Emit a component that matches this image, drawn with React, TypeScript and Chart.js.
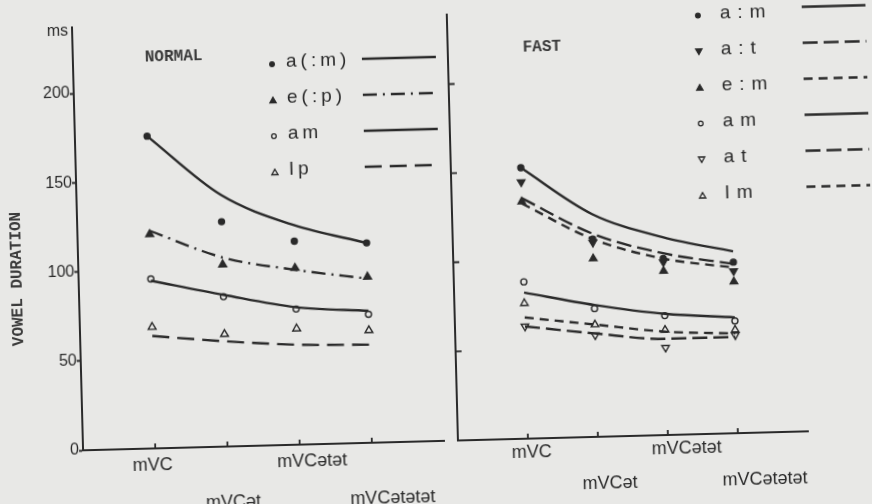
import React, { useEffect, useRef } from "react";
import { Chart, registerables } from "chart.js";

Chart.register(...registerables);

// ---------------- data ----------------
const categories = ["mVC", "mVCət", "mVCətət", "mVCətətət"];
const yTickValues = [0, 50, 100, 150, 200];
const yUnitLabel = "ms";
const yUnitValue = 235;
const yAxisTitle = "VOWEL DURATION";

// NORMAL panel
const normalTitle = "NORMAL";
const normalSeriesLabels = ["a(:m)", "e(:p)", "am", "Ip"];
const normalALongMPoints = [175, 126, 114, 112];
const normalALongMCurve = [175, 141, 123, 112];
const normalELongPPoints = [120, 102, 99, 93];
const normalELongPCurve = [122, 106, 98, 92];
const normalAmPoints = [95, 84, 76, 72];
const normalAmCurve = [94, 85, 77, 74];
const normalIpPoints = [68, 63, 65, 63];
const normalIpCurve = [63, 59, 56, 55];

// FAST panel
const fastTitle = "FAST";
const fastSeriesLabels = ["a:m", "a:t", "e:m", "am", "at", "Im"];
const fastALongMPoints = [152, 111, 99, 96];
const fastALongMCurve = [152, 125, 111, 102];
const fastALongTPoints = [144, 109, 97, 91];
const fastALongTCurve = [135, 114, 102, 95];
const fastELongMPoints = [133, 100, 92, 85];
const fastELongMCurve = [132, 111, 99, 93];
const fastAmPoints = [88, 72, 67, 63];
const fastAmCurve = [82, 74, 68, 65];
const fastAtPoints = [63, 57, 49, 55];
const fastAtCurve = [63, 58, 54, 54];
const fastImPoints = [76, 63, 59, 58];
const fastImCurve = [68, 63, 58, 56];

// ---------------- styles ----------------
const INK = "#2a2a2a";
const BG = "#e8e8e6";
const SANS = "'Liberation Sans', Arial, 'DejaVu Sans', sans-serif";
const MONO = "'Liberation Mono', 'Courier New', monospace";

type Style = { shape: string; rot: number; filled: boolean; r: number; lr: number; dash: number[] };

const normalStyles: Style[] = [
  { shape: "circle", rot: 0, filled: true, r: 3, lr: 2.3, dash: [] },
  { shape: "triangle", rot: 0, filled: true, r: 4.5, lr: 3.6, dash: [14, 6, 2, 6] },
  { shape: "circle", rot: 0, filled: false, r: 3, lr: 2.3, dash: [] },
  { shape: "triangle", rot: 0, filled: false, r: 4.5, lr: 3.6, dash: [17, 8] },
];

const fastStyles: Style[] = [
  { shape: "circle", rot: 0, filled: true, r: 3, lr: 2.3, dash: [] },
  { shape: "triangle", rot: 180, filled: true, r: 4.3, lr: 3.6, dash: [15, 6] },
  { shape: "triangle", rot: 0, filled: true, r: 4.3, lr: 3.6, dash: [9, 6] },
  { shape: "circle", rot: 0, filled: false, r: 3, lr: 2.3, dash: [] },
  { shape: "triangle", rot: 180, filled: false, r: 4.3, lr: 3.6, dash: [15, 6] },
  { shape: "triangle", rot: 0, filled: false, r: 4.3, lr: 3.6, dash: [9, 6] },
];

function buildDatasets(labels: string[], points: number[][], curves: number[][], styles: Style[]) {
  const out: any[] = [];
  labels.forEach((label, s) => {
    const st = styles[s];
    out.push({
      label,
      data: points[s].map((v, i) => ({ x: i, y: v })),
      showLine: false,
      pointStyle: st.shape,
      pointRotation: st.rot,
      pointRadius: st.r,
      pointBorderWidth: 1.4,
      pointBackgroundColor: st.filled ? INK : "rgba(0,0,0,0)",
      pointBorderColor: INK,
      legendRadius: st.lr,
      legendFilled: st.filled,
      order: 0,
    });
    out.push({
      label: label + " fit",
      data: curves[s].map((v, i) => ({ x: i, y: v })),
      borderColor: INK,
      borderWidth: 2.4,
      borderDash: st.dash,
      pointRadius: 0,
      fill: false,
      cubicInterpolationMode: "monotone",
      order: 1,
    });
  });
  return out;
}

function drawMarker(ctx: CanvasRenderingContext2D, shape: string, rotDeg: number, x: number, y: number, r: number, filled: boolean) {
  ctx.beginPath();
  if (shape === "circle") {
    ctx.arc(x, y, r, 0, Math.PI * 2);
  } else {
    let rad = (rotDeg * Math.PI) / 180;
    const yy = y + (rotDeg === 180 ? -r * 0.2 : r * 0.2);
    for (let k = 0; k < 3; k++) {
      const px = x + Math.sin(rad) * r;
      const py = yy - Math.cos(rad) * r;
      if (k === 0) ctx.moveTo(px, py);
      else ctx.lineTo(px, py);
      rad += (2 * Math.PI) / 3;
    }
    ctx.closePath();
  }
  ctx.lineWidth = 1.3;
  ctx.strokeStyle = INK;
  ctx.fillStyle = INK;
  if (filled) ctx.fill();
  ctx.stroke();
}

const panelDecor = {
  id: "panelDecor",
  afterDraw(chart: any, _args: any, opts: any) {
    const ctx: CanvasRenderingContext2D = chart.ctx;
    ctx.save();
    ctx.textBaseline = "middle";
    ctx.textAlign = "left";
    ctx.fillStyle = "#3a3a3a";
    ctx.font = `bold 16px ${MONO}`;
    ctx.fillText(opts.title, opts.titleX, opts.titleY);
    if (opts.yTitle) {
      ctx.save();
      ctx.translate(opts.yTitleX, opts.yTitleY);
      ctx.rotate(-Math.PI / 2);
      ctx.textAlign = "center";
      ctx.fillText(opts.yTitle, 0, 0);
      ctx.restore();
    }
    const ds = chart.data.datasets;
    for (let i = 0; i < ds.length; i += 2) {
      const p = ds[i];
      const f = ds[i + 1];
      const y = opts.y0 + (i / 2) * opts.dy;
      drawMarker(ctx, p.pointStyle, p.pointRotation || 0, opts.markerX, y + opts.markerDy, p.legendRadius, p.legendFilled);
      ctx.fillStyle = INK;
      ctx.font = `19px ${SANS}`;
      (ctx as any).letterSpacing = opts.letterSpacing;
      ctx.fillText(p.label, opts.textX, y);
      (ctx as any).letterSpacing = "0px";
      ctx.setLineDash(f.borderDash || []);
      ctx.lineWidth = 2.4;
      ctx.strokeStyle = INK;
      ctx.beginPath();
      ctx.moveTo(opts.lineX0, y + opts.lineDy);
      ctx.lineTo(opts.lineX1, y + opts.lineDy);
      ctx.stroke();
      ctx.setLineDash([]);
    }
    ctx.restore();
  },
};

const innerTicks = {
  id: "innerTicks",
  afterDraw(chart: any, _args: any, opts: any) {
    const ctx: CanvasRenderingContext2D = chart.ctx;
    const xs = chart.scales.x;
    const ys = chart.scales.y;
    ctx.save();
    ctx.strokeStyle = INK;
    ctx.lineWidth = 1.8;
    ctx.beginPath();
    if (opts.x) {
      for (const t of xs.ticks) {
        const px = xs.getPixelForValue(t.value);
        ctx.moveTo(px, xs.top);
        ctx.lineTo(px, xs.top - opts.x);
      }
    }
    if (opts.y) {
      for (const t of ys.ticks) {
        if (t.value <= 0) continue;
        const py = ys.getPixelForValue(t.value);
        ctx.moveTo(ys.right, py);
        ctx.lineTo(ys.right + opts.y, py);
      }
    }
    ctx.stroke();
    ctx.restore();
  },
};

function xScale(labelOffset: number, lineHeightPx: number, padding: number) {
  return {
    type: "linear",
    min: -1,
    max: 4,
    afterBuildTicks: (s: any) => {
      s.ticks = categories.map((_, i) => ({ value: i }));
    },
    afterFit: (s: any) => {
      s.height = 63;
      s.paddingLeft = 0;
      s.paddingRight = 0;
    },
    grid: { display: false },
    border: { display: true, color: INK, width: 2 },
    ticks: {
      autoSkip: false,
      maxRotation: 0,
      minRotation: 0,
      align: "start",
      labelOffset,
      padding,
      color: INK,
      font: { family: SANS, size: 18, lineHeight: lineHeightPx / 18 },
      callback: (v: number) => {
        const i = Math.round(v);
        const lab = categories[i] ?? "";
        return i % 2 === 1 ? ["", lab] : lab;
      },
    },
  };
}

function normalConfig(): any {
  return {
    type: "line",
    data: {
      datasets: buildDatasets(
        normalSeriesLabels,
        [normalALongMPoints, normalELongPPoints, normalAmPoints, normalIpPoints],
        [normalALongMCurve, normalELongPCurve, normalAmCurve, normalIpCurve],
        normalStyles
      ),
    },
    options: {
      responsive: false,
      animation: false,
      devicePixelRatio: 1,
      layout: { padding: { left: 0, right: 5, top: 18, bottom: 0 } },
      plugins: {
        legend: { display: false },
        tooltip: { enabled: false },
        panelDecor: {
          title: normalTitle, titleX: 150, titleY: 50,
          yTitle: yAxisTitle, yTitleX: 17, yTitleY: 268,
          markerX: 277, textX: 291, y0: 58, dy: 36, markerDy: 2,
          lineX0: 367, lineX1: 441, lineDy: -1, letterSpacing: "4px",
        },
        innerTicks: { x: 5, y: 0 },
      },
      scales: {
        x: xScale(-23, 38.5, -10),
        y: {
          type: "linear",
          min: 0,
          max: 237,
          afterBuildTicks: (s: any) => {
            s.ticks = [...yTickValues, yUnitValue].map((v) => ({ value: v }));
          },
          afterFit: (s: any) => {
            s.width = 78;
            s.paddingTop = 0;
            s.paddingBottom = 0;
          },
          grid: {
            display: true,
            drawOnChartArea: false,
            drawTicks: true,
            tickLength: 4,
            tickWidth: 2,
            tickColor: (c: any) => (c.tick && c.tick.value === yUnitValue ? "rgba(0,0,0,0)" : INK),
          },
          border: { display: true, color: INK, width: 2 },
          ticks: {
            autoSkip: false,
            padding: 0,
            color: INK,
            font: { family: SANS, size: 16 },
            callback: (v: number) => (v === yUnitValue ? yUnitLabel : String(v)),
          },
        },
      },
    },
    plugins: [panelDecor, innerTicks],
  };
}

function fastConfig(): any {
  return {
    type: "line",
    data: {
      datasets: buildDatasets(
        fastSeriesLabels,
        [fastALongMPoints, fastALongTPoints, fastELongMPoints, fastAmPoints, fastAtPoints, fastImPoints],
        [fastALongMCurve, fastALongTCurve, fastELongMCurve, fastAmCurve, fastAtCurve, fastImCurve],
        fastStyles
      ),
    },
    options: {
      responsive: false,
      animation: false,
      devicePixelRatio: 1,
      layout: { padding: { left: 0, right: 69, top: 15, bottom: 0 } },
      plugins: {
        legend: { display: false },
        tooltip: { enabled: false },
        panelDecor: {
          title: fastTitle, titleX: 83, titleY: 50,
          markerX: 259, textX: 281, y0: 20.5, dy: 36, markerDy: 2,
          lineX0: 363, lineX1: 433, lineDy: -4, letterSpacing: "7px",
        },
        innerTicks: { x: 5, y: 6 },
      },
      scales: {
        x: xScale(-16.5, 33, -10),
        y: {
          type: "linear",
          min: 0,
          max: 239,
          afterBuildTicks: (s: any) => {
            s.ticks = yTickValues.map((v) => ({ value: v }));
          },
          afterFit: (s: any) => {
            s.width = 8;
            s.paddingTop = 0;
            s.paddingBottom = 0;
          },
          grid: { display: false },
          border: { display: true, color: INK, width: 2 },
          ticks: { display: false },
        },
      },
    },
    plugins: [panelDecor, innerTicks],
  };
}

function Panel({ make, left, width }: { make: () => any; left: number; width: number }) {
  const ref = useRef<HTMLCanvasElement>(null);
  useEffect(() => {
    const chart = new Chart(ref.current as HTMLCanvasElement, make());
    return () => chart.destroy();
  }, []);
  return (
    <canvas
      ref={ref}
      width={width}
      height={504}
      style={{ position: "absolute", left, top: 0, width, height: 504 }}
    />
  );
}

export default function App() {
  return (
    <div style={{ position: "fixed", left: 0, top: 0, width: 872, height: 504, background: BG, overflow: "hidden" }}>
      <div
        style={{
          position: "absolute",
          left: 0,
          top: 0,
          width: 872,
          height: 504,
          transform: "rotate(-1.5deg)",
          transformOrigin: "436px 252px",
        }}
      >
        <Panel make={normalConfig} left={0} width={445} />
        <Panel make={fastConfig} left={445} width={427} />
      </div>
    </div>
  );
}
